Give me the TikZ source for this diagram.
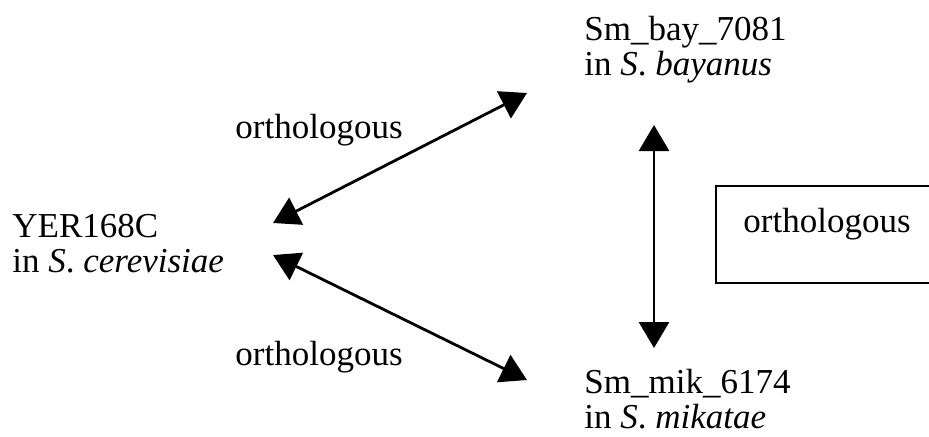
\documentclass[tikz,border=0pt]{standalone}
\usepackage{fontspec}
\setmainfont{Liberation Serif}
\usetikzlibrary{arrows.meta}
\tikzset{
  lbl/.style={anchor=base west, inner sep=0pt, font=\fontsize{17.5}{17.5}\selectfont},
  dbl/.style={line width=1.4pt, {Triangle[width=15pt,length=13pt]}-{Triangle[width=15pt,length=13pt]}},
  boxline/.style={line width=1pt}
}
\newcommand{\twoline}[2]{\begin{tabular}[t]{@{}l@{}}#1\\#2\end{tabular}}
\begin{document}
\begin{tikzpicture}[x=0.5pt,y=-0.5pt]
\useasboundingbox (0,0) rectangle (929,436);
\clip (0,0) rectangle (929,436);
\node[lbl] (yer) at (12,237) {\twoline{YER168C}{in \textit{S}. \textit{cerevisiae}}};
\node[lbl] (bay) at (584,40) {\twoline{Sm\_bay\_7081}{in \textit{S}. \textit{bayanus}}};
\node[lbl] (mik) at (584,393) {\twoline{Sm\_mik\_6174}{in \textit{S}. \textit{mikatae}}};
\node[lbl] (o1) at (235,138) {orthologous};
\node[lbl] (o2) at (235,365) {orthologous};
\node[lbl] (o3) at (743,232) {orthologous};
\draw[boxline] (940,186) -- (716,186) -- (716,283) -- (940,283);
\coordinate (a1) at (273,223);
\coordinate (a2) at (527,93);
\coordinate (b1) at (273,255);
\coordinate (b2) at (527,380);
\coordinate (c1) at (654,125);
\coordinate (c2) at (654,348);
\draw[dbl] (a1) -- (a2);
\draw[dbl] (b1) -- (b2);
\draw[dbl] (c1) -- (c2);
\end{tikzpicture}
\end{document}
